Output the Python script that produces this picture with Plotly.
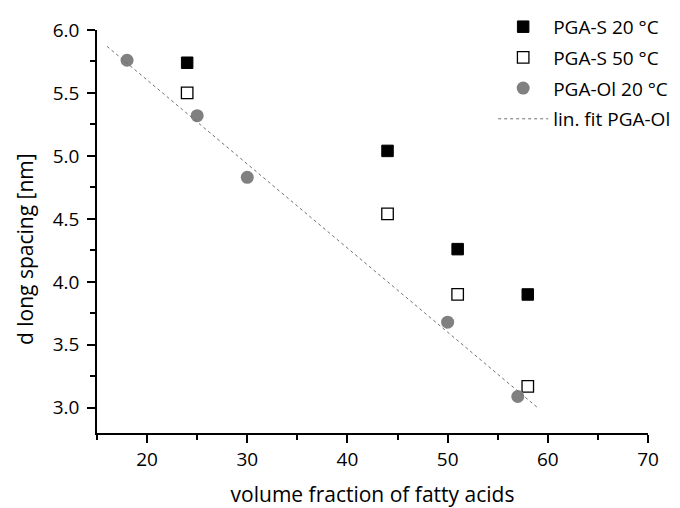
import plotly.graph_objects as go

# data
s20_x = [24, 44, 51, 58]
s20_y = [5.74, 5.04, 4.26, 3.90]
s50_x = [24, 44, 51, 58]
s50_y = [5.50, 4.54, 3.90, 3.17]
ol_x = [18, 25, 30, 50, 57]
ol_y = [5.76, 5.32, 4.83, 3.68, 3.09]
fit_x = [16, 59]
fit_y = [5.87, 3.00]

FONT = "Open Sans"

fig = go.Figure()
fig.add_trace(go.Scatter(x=s20_x, y=s20_y, mode="markers", name="PGA-S 20 °C",
                         legendgroup="a",
                         marker=dict(symbol="square", size=11.5, color="black",
                                     line=dict(color="black", width=1))))
fig.add_trace(go.Scatter(x=s50_x, y=s50_y, mode="markers", name="PGA-S 50 °C",
                         legendgroup="b",
                         marker=dict(symbol="square", size=11.5, color="white",
                                     line=dict(color="black", width=1.3))))
fig.add_trace(go.Scatter(x=ol_x, y=ol_y, mode="markers", name="PGA-Ol 20 °C",
                         legendgroup="c",
                         marker=dict(symbol="circle", size=13, color="#808080",
                                     line=dict(width=0))))
fig.add_trace(go.Scatter(x=fit_x, y=fit_y, mode="lines", name="lin. fit PGA-Ol",
                         legendgroup="d",
                         line=dict(color="#707070", width=1, dash="dot")))

axis_common = dict(showline=True, linecolor="black", linewidth=1.5,
                   ticks="outside", ticklen=8, tickwidth=1.5, tickcolor="black",
                   showgrid=False, zeroline=False, mirror=False,
                   tickfont=dict(family=FONT, size=19, color="black"))

fig.update_xaxes(range=[15, 70], tickvals=[20, 30, 40, 50, 60, 70],
                 ticklabelstandoff=0,
                 minor=dict(tickvals=[15, 25, 35, 45, 55, 65], ticks="outside",
                            ticklen=5, tickwidth=1.5, tickcolor="black"),
                 title=dict(text="volume fraction of fatty acids",
                            font=dict(family=FONT, size=21, color="black"),
                            standoff=28),
                 **axis_common)
fig.update_yaxes(range=[2.8, 6.0], tickvals=[3.0, 3.5, 4.0, 4.5, 5.0, 5.5, 6.0],
                 tickformat=".1f", ticklabelstandoff=4,
                 minor=dict(tickvals=[3.25, 3.75, 4.25, 4.75, 5.25, 5.75],
                            ticks="outside", ticklen=5, tickwidth=1.5, tickcolor="black"),
                 **axis_common)

fig.add_annotation(text="d long spacing [nm]", textangle=-90,
                   xref="paper", yref="paper", x=(25 - 97) / 551, y=(433 - 249) / 403,
                   xanchor="center", yanchor="middle", showarrow=False,
                   font=dict(family=FONT, size=21, color="black"))

fig.update_layout(
    width=680, height=508,
    margin=dict(l=97, r=32, t=30, b=75, autoexpand=False),
    plot_bgcolor="white", paper_bgcolor="white",
    font=dict(family=FONT, color="black"),
    legend=dict(x=0.719, y=1.055, xanchor="left", yanchor="top",
                itemwidth=50, traceorder="grouped", tracegroupgap=3,
                font=dict(family=FONT, size=19, color="black"),
                bgcolor="rgba(0,0,0,0)"),
)

fig.write_html("out.html")
